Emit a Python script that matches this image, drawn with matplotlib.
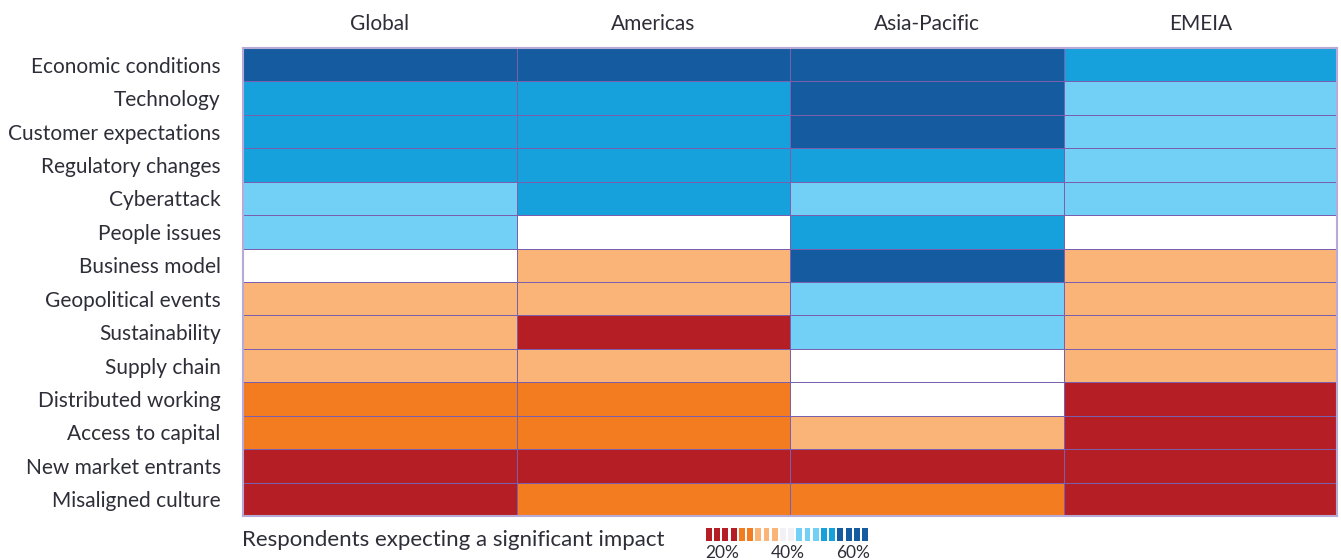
import numpy as np
import matplotlib.pyplot as plt
from matplotlib.colors import ListedColormap, BoundaryNorm

plt.rcParams['font.family'] = ['Lato', 'DejaVu Sans']

regions = ['Global', 'Americas', 'Asia-Pacific', 'EMEIA']
drivers = ['Economic conditions', 'Technology', 'Customer expectations',
           'Regulatory changes', 'Cyberattack', 'People issues', 'Business model',
           'Geopolitical events', 'Sustainability', 'Supply chain',
           'Distributed working', 'Access to capital', 'New market entrants',
           'Misaligned culture']

# impact band per cell: 0 = ~20% (red) ... 6 = ~60%+ (dark blue)
global_lvl = [6, 5, 5, 5, 4, 4, 3, 2, 2, 2, 1, 1, 0, 0]
americas_lvl = [6, 5, 5, 5, 5, 3, 2, 2, 0, 2, 1, 1, 0, 1]
apac_lvl = [6, 6, 6, 5, 4, 5, 6, 4, 4, 3, 3, 2, 0, 1]
emeia_lvl = [5, 4, 4, 4, 4, 3, 2, 2, 2, 2, 0, 0, 0, 0]

legend_bands = [0, 0, 0, 0, 1, 1, 2, 2, 2, 3, 3, 4, 4, 4, 5, 5, 6, 6, 6, 6]
legend_ticks = ['20%', '40%', '60%']

colors = ['#b41e24', '#f47c20', '#fbb478', '#ffffff', '#72d0f6', '#16a0dc', '#155b9f']
cmap = ListedColormap(colors)
norm = BoundaryNorm(np.arange(-0.5, 7.5, 1), cmap.N)

grid = np.array([global_lvl, americas_lvl, apac_lvl, emeia_lvl]).T
txt = '#2e2e38'

fig = plt.figure(figsize=(13.41, 5.60), dpi=100)
ax = fig.add_axes([243 / 1341, 44 / 560, 1094 / 1341, 468 / 560])
ax.pcolormesh(grid, cmap=cmap, norm=norm, edgecolors='#7a5fae', linewidth=0.7)
ax.set_xlim(0, len(regions))
ax.set_ylim(len(drivers), 0)
ax.xaxis.tick_top()
ax.set_xticks(np.arange(len(regions)) + 0.5)
ax.set_xticklabels(regions, fontsize=15, color=txt)
ax.set_yticks(np.arange(len(drivers)) + 0.5)
ax.set_yticklabels(drivers, fontsize=15, color=txt)
ax.tick_params(length=0)
ax.tick_params(axis='y', pad=16)
ax.tick_params(axis='x', pad=10)
for s in ax.spines.values():
    s.set_color('#b8aad6')
    s.set_linewidth(1.5)

fig.text(242 / 1341, 1 - 540 / 560, 'Respondents expecting a significant impact',
         fontsize=16, color=txt, va='center', ha='left')

# legend strip
lax = fig.add_axes([706 / 1341, 1 - 541 / 560, 162 / 1341, 13 / 560])
lcolors = [colors[b] if b != 3 else '#f2f2f6' for b in legend_bands]
for i, c in enumerate(lcolors):
    lax.bar(i, 1, width=0.72, color=c, align='edge')
lax.set_xlim(0, len(legend_bands) - 0.28)
lax.set_ylim(0, 1)
lax.axis('off')
for lbl, xp in zip(legend_ticks, [722, 788, 853]):
    fig.text(xp / 1341, 1 - 553 / 560, lbl, fontsize=12.5, color=txt,
             ha='center', va='center')

fig.savefig('out.png', dpi=100)
